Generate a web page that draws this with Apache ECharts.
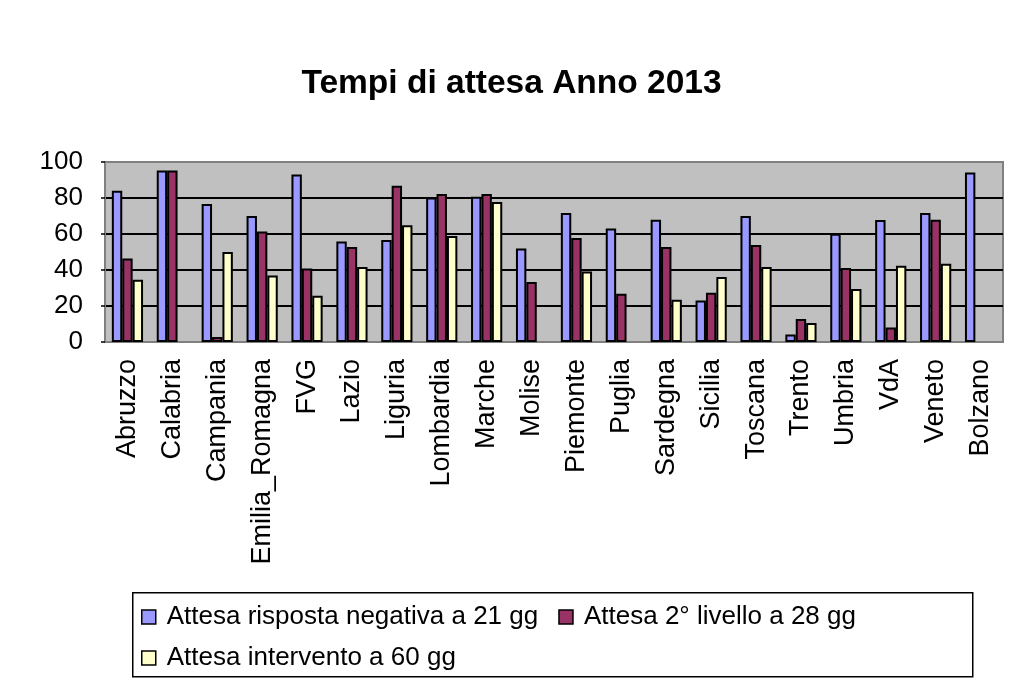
<!DOCTYPE html>
<html>
<head>
<meta charset="utf-8">
<script src="https://cdn.jsdelivr.net/npm/echarts@6/dist/echarts.min.js"></script>
<style>
html,body{margin:0;padding:0;background:#fff;}
#c{width:1023px;height:689px;}
</style>
</head>
<body>
<div id="c"></div>
<script>
const categories = ['Abruzzo','Calabria','Campania','Emilia_Romagna','FVG','Lazio','Liguria','Lombardia','Marche','Molise','Piemonte','Puglia','Sardegna','Sicilia','Toscana','Trento','Umbria','VdA','Veneto','Bolzano'];
const seriesNames = ['Attesa risposta negativa a 21 gg','Attesa 2° livello a 28 gg','Attesa intervento a 60 gg'];
const risposta21 = [84, 95.3, 76.7, 70, 93.1, 55.9, 56.7, 80.3, 80.7, 52, 71.7, 63.1, 67.9, 23.1, 70, 4.2, 60.2, 67.8, 71.7, 94.2];
const livello28 = [46.4, 95.3, 2.8, 61.4, 40.9, 52.8, 86.8, 82.2, 82.2, 33.3, 57.8, 26.8, 52.8, 27.4, 53.9, 12.8, 41.1, 8.1, 67.9, null];
const intervento60 = [34.6, null, 50, 37, 25.7, 41.7, 64.8, 58.9, 77.8, null, 39.2, null, 23.5, 36.1, 41.7, 10.5, 29.4, 42.4, 43.5, null];
const yTicks = [0, 20, 40, 60, 80, 100];

const colors = ['#9999ff', '#993366', '#ffffcc'];
const FONT = 'Liberation Sans, Arial, sans-serif';

const chart = echarts.init(document.getElementById('c'), null, {renderer: 'canvas'});

function bar(name, data, color) {
  return {
    name: name, type: 'bar', data: data,
    barWidth: 10.4, barGap: '0%',
    itemStyle: {color: color, borderColor: '#000', borderWidth: 2},
    animation: false
  };
}

const legendCommon = {
  orient: 'horizontal',
  icon: 'rect',
  itemWidth: 14, itemHeight: 14,
  itemGap: 20,
  itemStyle: {borderColor: '#000', borderWidth: 1.5},
  textStyle: {fontFamily: FONT, fontSize: 26, color: '#000', padding: [0, 0, 0, 6]},
  selectedMode: false
};

chart.setOption({
  backgroundColor: '#fff',
  animation: false,
  title: {
    text: 'Tempi di attesa Anno 2013',
    left: 'center', top: 62,
    textStyle: {fontFamily: FONT, fontSize: 33.5, fontWeight: 'bold', color: '#000'}
  },
  graphic: [{
    type: 'rect', left: 132, top: 592, z: -1,
    shape: {width: 840, height: 84},
    style: {fill: '#fff', stroke: '#000', lineWidth: 1.5}
  }],
  legend: [
    Object.assign({}, legendCommon, {data: [seriesNames[0], seriesNames[1]], left: 136, top: 599}),
    Object.assign({}, legendCommon, {data: [seriesNames[2]], left: 136, top: 640})
  ],
  grid: {
    left: 105, right: 20, top: 162, bottom: 347,
    show: true, backgroundColor: '#c0c0c0', borderColor: '#808080', borderWidth: 2
  },
  xAxis: {
    type: 'category', data: categories,
    axisLine: {show: true, lineStyle: {color: '#808080', width: 2}},
    axisTick: {show: false},
    axisLabel: {rotate: 90, margin: 17, fontFamily: FONT, fontSize: 27, color: '#000', interval: 0}
  },
  yAxis: {
    type: 'value', min: yTicks[0], max: yTicks[yTicks.length - 1], interval: 20,
    axisLine: {show: true, lineStyle: {color: '#808080', width: 2}},
    axisTick: {show: true, length: 4, lineStyle: {color: '#000', width: 1.5}},
    axisLabel: {margin: 22, fontFamily: FONT, fontSize: 26, color: '#000'},
    splitLine: {show: true, showMinLine: false, showMaxLine: false, lineStyle: {color: '#000', width: 2}}
  },
  series: [
    bar(seriesNames[0], risposta21, colors[0]),
    bar(seriesNames[1], livello28, colors[1]),
    bar(seriesNames[2], intervento60, colors[2])
  ]
});
</script>
</body>
</html>
